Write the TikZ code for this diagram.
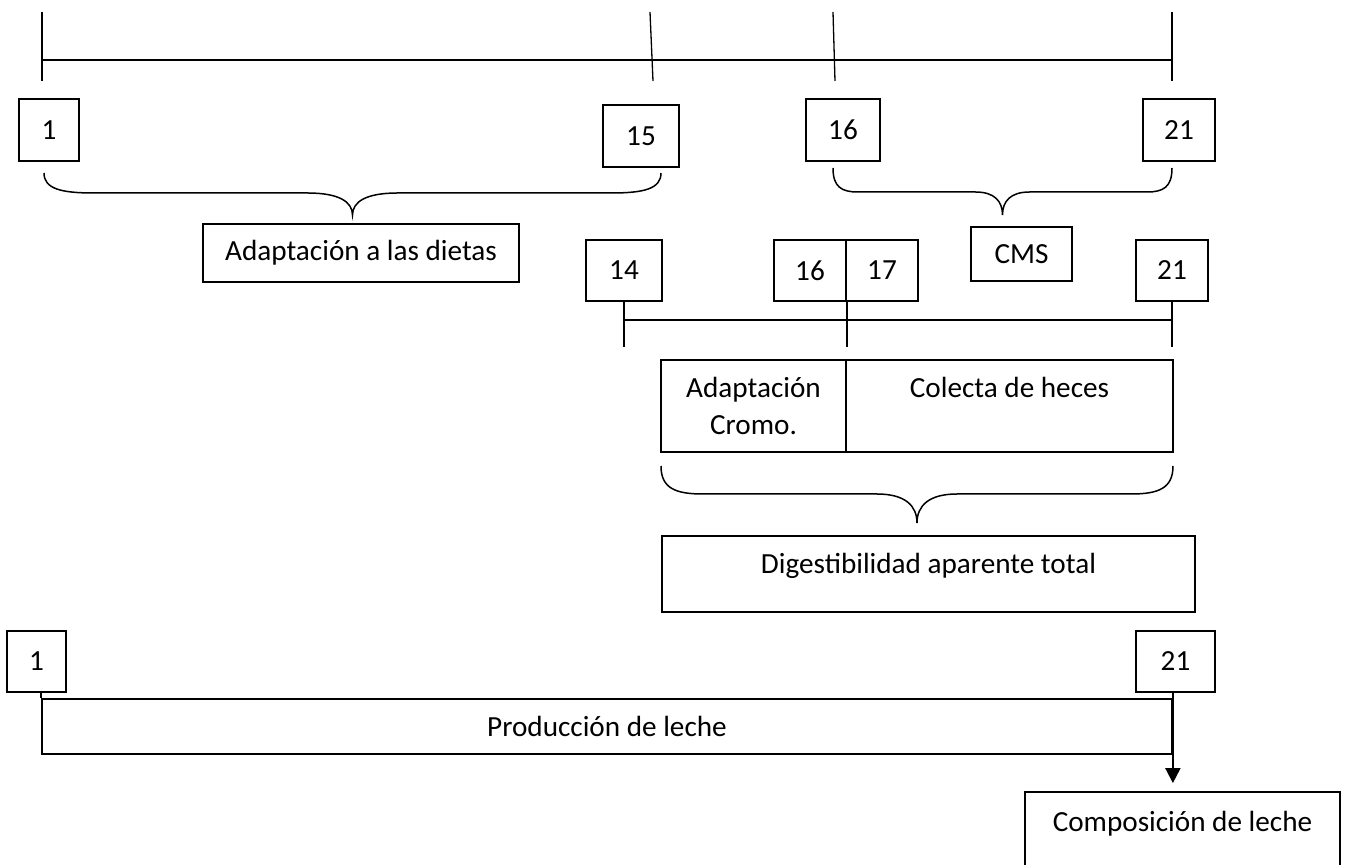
\documentclass[tikz,border=0pt]{standalone}
\usepackage{fontspec}
\setmainfont{Carlito}
\usetikzlibrary{arrows.meta,calc}
\tikzset{
  box/.style={draw, line width=0.9pt, inner sep=0pt, align=center,
    font=\fontsize{14.6}{18.5}\selectfont},
  tickline/.style={line width=0.65pt},
  tline/.style={line width=1pt},
  tlinetwo/.style={line width=0.75pt},
  bracepath/.style={line width=0.75pt},
  sideline/.style={line width=0.9pt},
  arrowline/.style={line width=1pt, -{Triangle[width=7.5pt,length=7.5pt]}, shorten >=4pt},
}
% brace: x0, x1, yend, ymid, ytip, end-curve width, mid-curve width
\newcommand{\wbrace}[7]{%
  \draw[bracepath] (#1,#3) .. controls (#1,{#3+0.8*(#4-#3)}) and ({#1+0.35*#6},#4) .. ({#1+#6},#4)
    -- ({(#1+#2)/2-#7},#4) .. controls ({(#1+#2)/2-0.3*#7},#4) and ({(#1+#2)/2},{#4+0.4*(#5-#4)}) .. ({(#1+#2)/2},#5)
    .. controls ({(#1+#2)/2},{#4+0.4*(#5-#4)}) and ({(#1+#2)/2+0.3*#7},#4) .. ({(#1+#2)/2+#7},#4)
    -- ({#2-#6},#4) .. controls ({#2-0.35*#6},#4) and (#2,{#3+0.8*(#4-#3)}) .. (#2,#3);}
\begin{document}
\begin{tikzpicture}[x=0.5pt,y=-0.5pt]
\clip (0,0) rectangle (1346,865);
\fill[white] (0,0) rectangle (1346,865);

% top timeline
\coordinate (t1) at (42,60);
\coordinate (t21) at (1172,60);
\draw[tline] (t1) -- (t21);
\draw[tickline] (42,12) -- (42,81);
\draw[tickline] (650,12) -- (653,81);
\draw[tickline] (833,12) -- (835,81);
\draw[tickline] (1172,12) -- (1172,81);

% top number boxes
\node[box, minimum width=30pt, minimum height=31pt] (n1a) at (49,130) {1};
\node[box, minimum width=38pt, minimum height=31pt] (n15) at (641,136) {15};
\node[box, minimum width=37pt, minimum height=31pt] (n16a) at (843,130) {16};
\node[box, minimum width=36pt, minimum height=31pt] (n21a) at (1179,130) {21};

% braces
\wbrace{44}{661}{173}{193}{215}{50}{45}
\wbrace{833}{1172}{168}{192}{215}{25}{27}

\node[box, minimum width=158pt, minimum height=29pt] (dietas) at (361,253) {Adaptación a las dietas};
\node[box, minimum width=50.5pt, minimum height=27pt] (cms) at (1021.5,254) {CMS};

% second timeline
\node[box, minimum width=38pt, minimum height=30.5pt] (n14) at (624,270.5) {14};
\node[box, minimum width=36pt, minimum height=30.5pt] (n16b) at (810,270.5) {16};
\node[box, minimum width=36pt, minimum height=30.5pt] (n17) at (882,270.5) {17};
\node[box, minimum width=36pt, minimum height=30.5pt] (n21b) at (1172,270.5) {21};
\coordinate (m2) at (0,320);
\coordinate (b2) at (0,347);
\draw[tickline] (n14.south) -- (n14.south |- b2);
\draw[tickline] (n16b.south east) -- (n16b.south east |- b2);
\draw[tickline] (n21b.south) -- (n21b.south |- b2);
\draw[tlinetwo] (n14.south |- m2) -- (n21b.south |- m2);
\draw[line width=1.1pt] (661,320) -- (678,320);

\node[box, minimum width=92.5pt, minimum height=46pt] (cromo) at (753.5,406) {Adaptación\\Cromo.};
\node[box, minimum width=163.5pt, minimum height=46pt] (colecta) at (1009.5,406) {Colecta de heces\\\vphantom{Cromo.}};

\wbrace{661}{1173}{466}{494}{523}{42}{40}

\node[box, minimum width=266.5pt, minimum height=38pt, text height=10pt, text depth=10pt] (dig) at (928.5,574) {Digestibilidad aparente total};

% bottom
\node[box, minimum width=29.5pt, minimum height=30.5pt] (n1c) at (36.5,661.5) {1};
\node[box, minimum width=39.5pt, minimum height=30.5pt] (n21c) at (1175.5,661.5) {21};
\node[box, minimum width=565pt, minimum height=27.5pt] (prod) at (607,726.5) {Producción de leche};
\node[box, minimum width=157.5pt, minimum height=44pt, text height=10pt, text depth=14pt] (comp) at (1182.5,836) {Composición de leche};
\draw[sideline] (n1c.south -| prod.west) -- (prod.north west);
\draw[arrowline] (n21c.south -| prod.east) -- (prod.east |- comp.north);
\end{tikzpicture}
\end{document}
